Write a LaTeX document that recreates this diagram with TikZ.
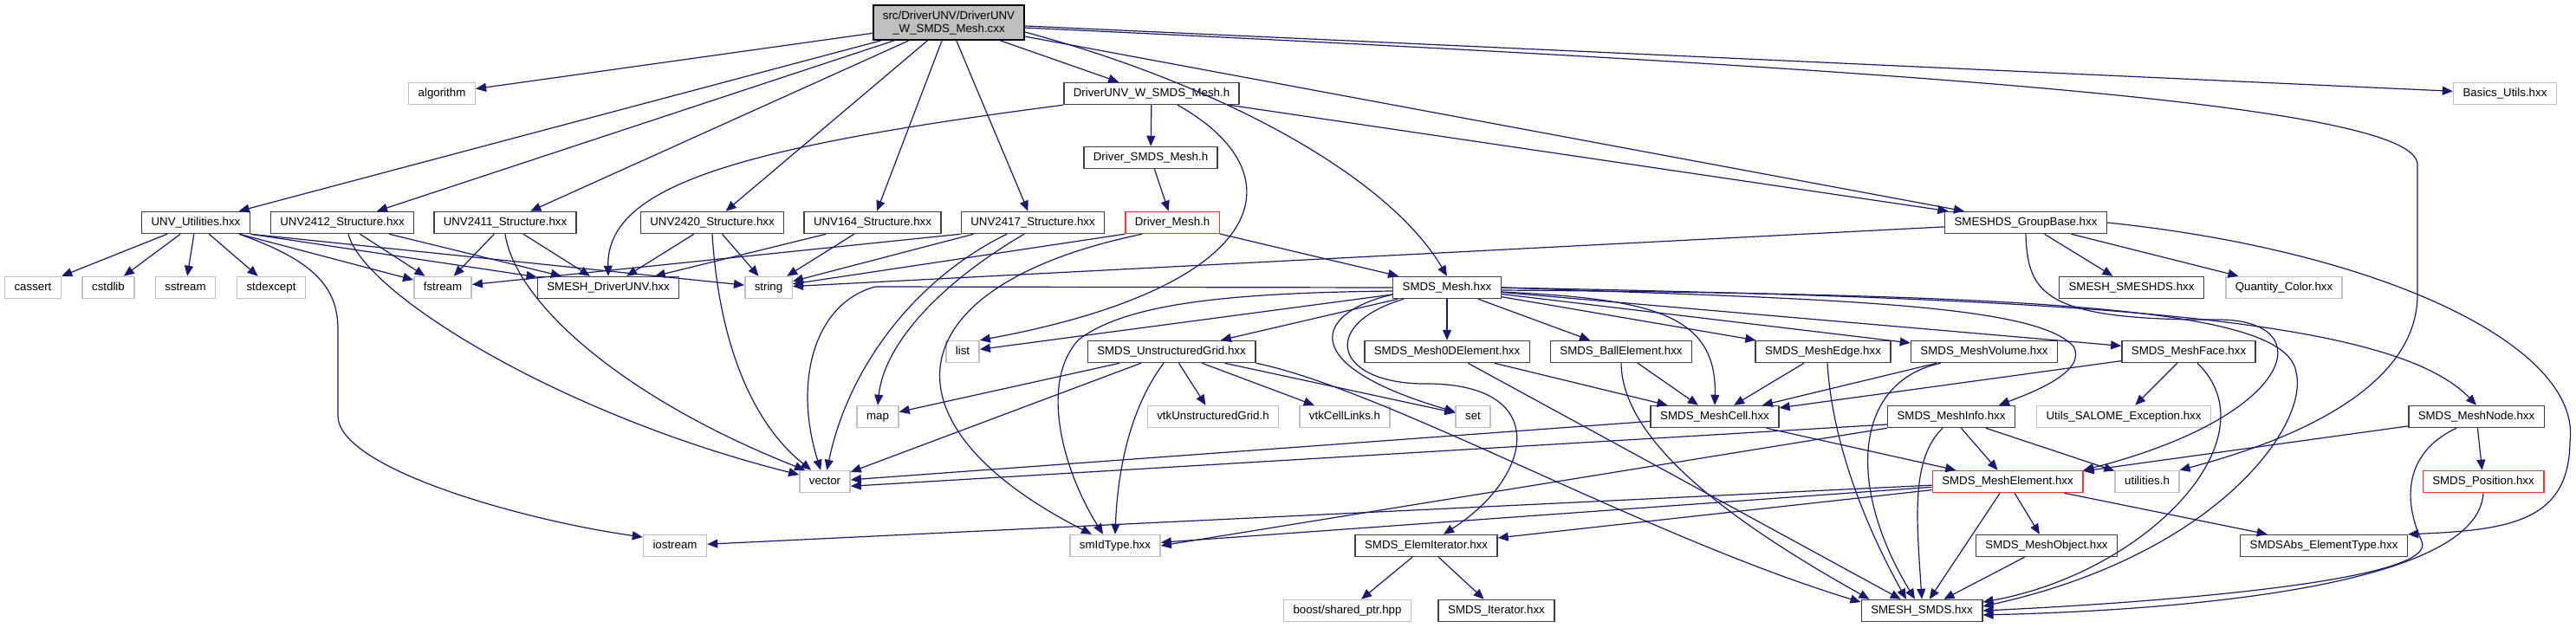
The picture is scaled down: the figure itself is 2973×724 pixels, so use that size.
\documentclass[tikz,border=0pt]{standalone}
\usepackage{fontspec}
\setmainfont{Liberation Sans}
\usetikzlibrary{arrows.meta}
\definecolor{edgeblue}{HTML}{191970}
\definecolor{sysgray}{HTML}{BFBFBF}
\definecolor{hdrgray}{HTML}{404040}
\definecolor{truncred}{HTML}{FF3333}
\tikzset{
  hdr/.style={draw=hdrgray, fill=white, line width=1.5pt, minimum height=25pt, inner xsep=11pt,
    text height=10pt, text depth=3pt, font=\fontsize{13.3}{15}\selectfont},
  sys/.style={hdr, draw=sysgray},
  trunc/.style={hdr, draw=truncred},
  rootbox/.style={draw=black, fill=sysgray, line width=1.5pt, minimum height=40pt, inner xsep=11pt,
    align=center, font=\fontsize{13.3}{15}\selectfont},
  incl/.style={draw=edgeblue, line width=1.2pt, -{Triangle[length=12pt,width=10pt]}}
}

\begin{document}
\begin{tikzpicture}[x=1pt, y=-1pt]
  \fill[white] (0,0) rectangle (2973,724);
  \useasboundingbox (0,0) rectangle (2973,724);

  \node[rootbox] (root) at (1095,26) {src/DriverUNV/DriverUNV\\\_W\_SMDS\_Mesh.cxx};
  \node[sys] (algorithm) at (510,108) {algorithm};
  \node[hdr] (drvw) at (1329,108) {DriverUNV\_W\_SMDS\_Mesh.h};
  \node[sys] (basics) at (2891,108) {Basics\_Utils.hxx};
  \node[hdr] (drvsmds) at (1328,182) {Driver\_SMDS\_Mesh.h};
  \node[hdr] (unvutil) at (226,257) {UNV\_Utilities.hxx};
  \node[hdr] (unv2412) at (395,257) {UNV2412\_Structure.hxx};
  \node[hdr] (unv2411) at (583,257) {UNV2411\_Structure.hxx};
  \node[hdr] (unv2420) at (822,257) {UNV2420\_Structure.hxx};
  \node[hdr] (unv164) at (1007,257) {UNV164\_Structure.hxx};
  \node[hdr] (unv2417) at (1192,257) {UNV2417\_Structure.hxx};
  \node[trunc] (drvmesh) at (1353,257) {Driver\_Mesh.h};
  \node[hdr] (groupbase) at (2338,257) {SMESHDS\_GroupBase.hxx};
  \node[sys] (cassert) at (38,332) {cassert};
  \node[sys] (cstdlib) at (125,332) {cstdlib};
  \node[sys] (sstream) at (214,332) {sstream};
  \node[sys] (stdexcept) at (313,332) {stdexcept};
  \node[sys] (fstream) at (511,332) {fstream};
  \node[hdr] (drvunv) at (702,332) {SMESH\_DriverUNV.hxx};
  \node[sys] (string) at (887,332) {string};
  \node[hdr] (smdsmesh) at (1670,332) {SMDS\_Mesh.hxx};
  \node[hdr] (smeshds) at (2460,332) {SMESH\_SMESHDS.hxx};
  \node[sys] (qcolor) at (2636,332) {Quantity\_Color.hxx};
  \node[sys] (list) at (1111,406) {list};
  \node[hdr] (ugrid) at (1352,406) {SMDS\_UnstructuredGrid.hxx};
  \node[hdr] (zerod) at (1670,406) {SMDS\_Mesh0DElement.hxx};
  \node[hdr] (ball) at (1871,406) {SMDS\_BallElement.hxx};
  \node[hdr] (medge) at (2104,406) {SMDS\_MeshEdge.hxx};
  \node[hdr] (mvolume) at (2290,406) {SMDS\_MeshVolume.hxx};
  \node[hdr] (mface) at (2526,406) {SMDS\_MeshFace.hxx};
  \node[sys] (map) at (1013,481) {map};
  \node[sys] (vtkug) at (1400,481) {vtkUnstructuredGrid.h};
  \node[sys] (vtkcl) at (1552,481) {vtkCellLinks.h};
  \node[sys] (set) at (1700,481) {set};
  \node[hdr] (mcell) at (1979,481) {SMDS\_MeshCell.hxx};
  \node[hdr] (minfo) at (2252,481) {SMDS\_MeshInfo.hxx};
  \node[sys] (except) at (2451,481) {Utils\_SALOME\_Exception.hxx};
  \node[hdr] (mnode) at (2858,481) {SMDS\_MeshNode.hxx};
  \node[sys] (vector) at (952,556) {vector};
  \node[trunc] (melem) at (2317,556) {SMDS\_MeshElement.hxx};
  \node[sys] (utils) at (2478,556) {utilities.h};
  \node[trunc] (mpos) at (2866,556) {SMDS\_Position.hxx};
  \node[sys] (iostream) at (779,630) {iostream};
  \node[sys] (idtype) at (1287,630) {smIdType.hxx};
  \node[hdr] (elemit) at (1646,630) {SMDS\_ElemIterator.hxx};
  \node[hdr] (mobject) at (2362,630) {SMDS\_MeshObject.hxx};
  \node[hdr] (abstype) at (2682,630) {SMDSAbs\_ElementType.hxx};
  \node[sys] (boost) at (1555,705) {boost/shared\_ptr.hpp};
  \node[hdr] (iter) at (1727,705) {SMDS\_Iterator.hxx};
  \node[hdr] (smds) at (2218,705) {SMESH\_SMDS.hxx};

  % the source file
  \draw[incl] (root) -- (algorithm);
  \draw[incl] (root) -- (unvutil);
  \draw[incl] (root) -- (unv2412);
  \draw[incl] (root) -- (unv2411);
  \draw[incl] (root) -- (unv2420);
  \draw[incl] (root) -- (unv164);
  \draw[incl] (root) -- (unv2417);
  \draw[incl] (root) -- (drvw);
  \draw[incl] (root) -- (groupbase);
  \draw[incl] (root) -- (basics);
  \draw[incl] ([yshift=-11pt]root.east) .. controls (1400,95) and (1600,200) .. (smdsmesh.north);
  \draw[incl] ([yshift=-6pt]root.east) .. controls (2200,80) and (2790,120) .. (2790,190)
    -- (2790,340) .. controls (2790,450) and (2640,510) .. (utils.north east);

  % driver headers
  \draw[incl] (drvw) -- (drvsmds);
  \draw[incl] (drvw.south west) .. controls (850,170) and (700,215) .. (drvunv.north);
  \draw[incl] ([xshift=30pt]drvw.south) .. controls (1500,200) and (1470,330) .. (list.north east);
  \draw[incl] (drvw) -- (groupbase);
  \draw[incl] (drvsmds) -- (drvmesh);
  \draw[incl] (drvmesh.south west) -- (string);
  \draw[incl] ([xshift=-35pt]drvmesh.south) .. controls (1030,330) and (1010,490) .. ([xshift=-27pt]idtype.north);
  \draw[incl] (drvmesh) -- (smdsmesh);

  % UNV headers
  \draw[incl] (unvutil) -- (cassert);
  \draw[incl] (unvutil) -- (cstdlib);
  \draw[incl] (unvutil) -- (sstream);
  \draw[incl] (unvutil) -- (stdexcept);
  \draw[incl] (unvutil) -- (fstream);
  \draw[incl] (unvutil.south east) -- (drvunv);
  \draw[incl] (unvutil.south east) -- (string);
  \draw[incl] ([xshift=50pt]unvutil.south) .. controls (360,300) and (390,330) .. (390,380)
    -- (390,480) .. controls (390,540) and (600,600) .. (iostream.165);
  \draw[incl] (unv2412) -- (fstream);
  \draw[incl] (unv2412) -- (drvunv);
  \draw[incl] ([xshift=7pt]unv2412.south) .. controls (420,340) and (650,480) .. (vector.165);
  \draw[incl] (unv2411) -- (fstream);
  \draw[incl] (unv2411) -- (drvunv);
  \draw[incl] (unv2411.south) .. controls (595,350) and (720,460) .. (vector.150);
  \draw[incl] (unv2420) -- (drvunv);
  \draw[incl] (unv2420) -- (string);
  \draw[incl] (unv2420.south) .. controls (830,400) and (870,490) .. (vector.140);
  \draw[incl] (unv164) -- (drvunv);
  \draw[incl] (unv164) -- (string);
  \draw[incl] (unv2417.south west) -- (fstream);
  \draw[incl] ([xshift=15pt]unv2417.south west) -- (string);
  \draw[incl] ([xshift=-30pt]unv2417.south) .. controls (1060,320) and (980,420) .. (vector.80);
  \draw[incl] ([xshift=-10pt]unv2417.south) .. controls (1080,330) and (1020,400) .. (map.north);

  % SMESHDS group
  \draw[incl] (groupbase) -- (string);
  \draw[incl] (groupbase) -- (smeshds);
  \draw[incl] (groupbase) -- (qcolor);
  \draw[incl] (groupbase.south) .. controls (2340,340) and (2360,370) .. (2560,369)
    .. controls (2680,369) and (2650,480) .. (melem.north east);
  \draw[incl] (groupbase.east) .. controls (2750,290) and (2980,400) .. (2966,510)
    .. controls (2965,600) and (2900,612) .. (abstype.north east);

  % SMDS mesh
  \draw[incl] ([yshift=-8pt]smdsmesh.west) -- (list);
  \draw[incl] (smdsmesh) -- (ugrid);
  \draw[incl] ([yshift=-4pt]smdsmesh.west) .. controls (1420,338) and (1300,350) .. (1245,392)
    .. controls (1200,440) and (1225,540) .. ([xshift=-14pt]idtype.north);
  \draw[incl] (smdsmesh.west) -- (1010,331) .. controls (940,350) and (915,440) .. (vector.110);
  \draw[incl] ([yshift=-8pt]smdsmesh.west) .. controls (1520,360) and (1490,420) .. (set.165);
  \draw[incl] (smdsmesh) -- (zerod);
  \draw[incl] ([xshift=-50pt]smdsmesh.south) .. controls (1520,375) and (1540,445) .. (1650,443)
    .. controls (1790,445) and (1770,550) .. ([xshift=20pt]elemit.north);
  \draw[incl] (smdsmesh) -- (ball);
  \draw[incl] ([yshift=-5pt]smdsmesh.east) .. controls (1900,345) and (1982,360) .. (mcell.north);
  \draw[incl] (smdsmesh) -- (medge);
  \draw[incl] (smdsmesh) -- (mvolume);
  \draw[incl] (smdsmesh) -- (mface);
  \draw[incl] (smdsmesh.east) .. controls (2100,345) and (2350,350) .. (2393,400)
    .. controls (2410,430) and (2340,455) .. ([xshift=55pt]minfo.north);
  \draw[incl] (smdsmesh.east) .. controls (2400,345) and (2760,365) .. (mnode.north);
  \draw[incl] ([yshift=-3pt]smdsmesh.east) .. controls (2400,340) and (2640,360) .. (2650,430)
    .. controls (2665,490) and (2560,640) .. (smds.4);

  % SMDS elements
  \draw[incl] (ugrid) -- (map);
  \draw[incl] (ugrid) -- (vtkug);
  \draw[incl] (ugrid) -- (vtkcl);
  \draw[incl] ([xshift=-9pt]ugrid.south) .. controls (1305,470) and (1290,540) .. (idtype.north);
  \draw[incl] (ugrid) -- (vector);
  \draw[incl] (ugrid) -- (set);
  \draw[incl] (ugrid.south east) .. controls (1600,450) and (1900,620) .. (smds.172);
  \draw[incl] (zerod) -- (mcell);
  \draw[incl] (zerod) -- (smds);
  \draw[incl] (ball) -- (mcell);
  \draw[incl] (ball.south) .. controls (1872,520) and (2030,620) .. ([xshift=10pt]smds.north west);
  \draw[incl] (medge) -- (mcell);
  \draw[incl] ([xshift=5pt]medge.south) .. controls (2115,520) and (2160,620) .. ([xshift=-18pt]smds.north);
  \draw[incl] (mvolume) -- (mcell);
  \draw[incl] ([xshift=-50pt]mvolume.south) .. controls (2140,440) and (2130,560) .. ([xshift=-8pt]smds.north);
  \draw[incl] (mface) -- (mcell);
  \draw[incl] (mface) -- (except);
  \draw[incl] ([xshift=10pt]mface.south) .. controls (2625,505) and (2480,660) .. (smds.8);
  \draw[incl] (mcell) -- (vector);
  \draw[incl] (mcell) -- (melem);
  \draw[incl] ([yshift=-9pt]minfo.west) -- (vector.-10);
  \draw[incl] (minfo.south west) -- (idtype.east);
  \draw[incl] (minfo) -- (melem);
  \draw[incl] (minfo) -- (utils);
  \draw[incl] ([xshift=-10pt]minfo.south) .. controls (2205,530) and (2212,600) .. (smds.north);
  \draw[incl] (melem) -- (iostream);
  \draw[incl] (melem) -- (idtype);
  \draw[incl] (melem) -- (elemit);
  \draw[incl] (melem) -- (mobject);
  \draw[incl] (melem) -- (smds);
  \draw[incl] (melem) -- (abstype);
  \draw[incl] (mnode) -- (melem);
  \draw[incl] (mnode) -- (mpos);
  \draw[incl] ([xshift=-23pt]mnode.south) .. controls (2780,520) and (2770,570) .. (2795,625)
    .. controls (2815,670) and (2500,695) .. (smds.0);
  \draw[incl] (mpos.south) .. controls (2860,680) and (2500,705) .. (smds.-4);
  \draw[incl] (elemit) -- (boost);
  \draw[incl] (elemit) -- (iter);
  \draw[incl] (mobject) -- (smds);
\end{tikzpicture}
\end{document}
